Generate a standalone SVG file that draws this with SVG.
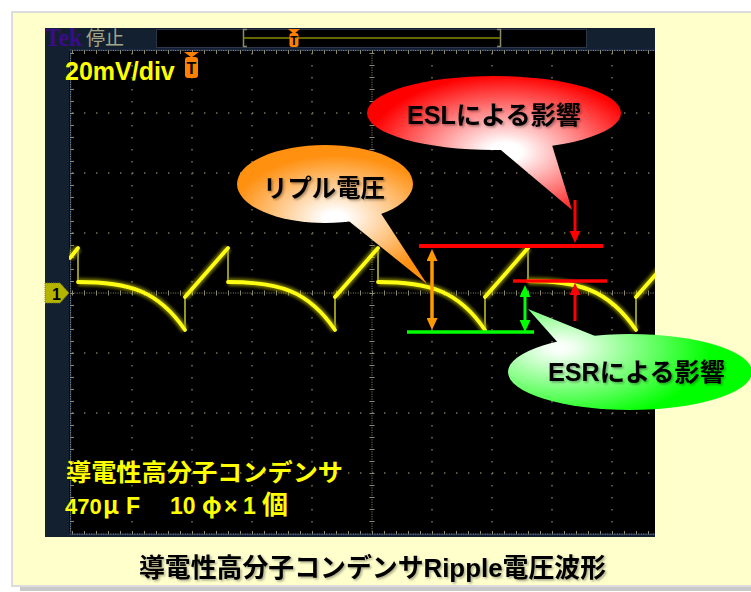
<svg xmlns="http://www.w3.org/2000/svg" width="751" height="592" viewBox="0 0 751 592">
<defs>
<style>
.jp{font-family:"Liberation Sans","Noto Sans CJK JP",sans-serif;font-weight:bold}
.g{fill:none;stroke:#7a7a5e;stroke-width:1.4;stroke-dasharray:1.4 10.6}
.cl{fill:none;stroke:#8c8c72;stroke-width:1;stroke-dasharray:1 1.4}
.tk{fill:none;stroke:#8c8c72;stroke-width:5;stroke-dasharray:1 11}
.bd{fill:none;stroke:#26335c;stroke-width:1.5}
.wv{fill:none;stroke:#ffff14;stroke-width:3.8;stroke-linejoin:round;stroke-linecap:round}
.wg{fill:none;stroke:#d8d800;stroke-width:8;opacity:.5;filter:url(#blur)}
.ed{fill:none;stroke:#96961a;stroke-width:2}
.cap{font-size:25px;fill:#000;filter:url(#sh)}
</style>
<filter id="blur" x="-10%" y="-30%" width="120%" height="160%"><feGaussianBlur stdDeviation="1.6"/></filter>
<filter id="sh" x="-5%" y="-20%" width="110%" height="150%"><feDropShadow dx="1.5" dy="1.5" stdDeviation="0.8" flood-color="#000" flood-opacity="0.35"/></filter>
<clipPath id="scr"><rect x="69" y="49" width="586" height="486"/></clipPath>
<radialGradient id="gESL" gradientUnits="userSpaceOnUse" cx="0" cy="0" r="140" gradientTransform="translate(505 152) scale(1 0.55)">
<stop offset="0" stop-color="#fff"/><stop offset="0.12" stop-color="#fff"/><stop offset="1" stop-color="#ff0000"/></radialGradient>
<radialGradient id="gRip" gradientUnits="userSpaceOnUse" cx="0" cy="0" r="105" gradientTransform="translate(335 218) scale(1 0.6)">
<stop offset="0" stop-color="#fff"/><stop offset="0.1" stop-color="#fff"/><stop offset="1" stop-color="#ff9010"/></radialGradient>
<radialGradient id="gESR" gradientUnits="userSpaceOnUse" cx="0" cy="0" r="150" gradientTransform="translate(560 348) scale(1 0.5)">
<stop offset="0" stop-color="#fff"/><stop offset="0.08" stop-color="#f4fff4"/><stop offset="1" stop-color="#00ff00"/></radialGradient>
<marker id="aO" markerUnits="userSpaceOnUse" viewBox="0 0 12 11" refX="2" refY="5.5" markerWidth="12" markerHeight="11" orient="auto-start-reverse"><path d="M0,0L12,5.5L0,11z" fill="#ff9900"/></marker>
<marker id="aG" markerUnits="userSpaceOnUse" viewBox="0 0 12 11" refX="2" refY="5.5" markerWidth="12" markerHeight="11" orient="auto-start-reverse"><path d="M0,0L12,5.5L0,11z" fill="#00ff00"/></marker>
<marker id="aR" markerUnits="userSpaceOnUse" viewBox="0 0 12 11" refX="2" refY="5.5" markerWidth="12" markerHeight="11" orient="auto-start-reverse"><path d="M0,0L12,5.5L0,11z" fill="#ff0000"/></marker>
</defs>

<rect width="751" height="592" fill="#fff"/>
<rect x="20" y="18" width="740" height="573" fill="#c9c9c9"/>
<rect x="12" y="12" width="750" height="574" fill="#ffffcc" stroke="#dcdcdc" stroke-width="2"/>

<g id="scope">
<rect x="45" y="28" width="610" height="509" fill="#13202f"/>
<rect x="69" y="49" width="586" height="486" fill="#000"/>
<rect x="156.5" y="29.5" width="430" height="18" fill="#000" stroke="#2a3648"/>
<path d="M247,29.5H243.5V46.5H247M497,29.5H500.5V46.5H497" fill="none" stroke="#8c8c6a" stroke-width="1.5"/>
<path d="M244,38H500" stroke="#8a8a00" stroke-width="1.5"/>
<text x="45" y="46" font-family="Liberation Serif,serif" font-weight="bold" font-size="25" fill="#3a0c8c" textLength="37" lengthAdjust="spacingAndGlyphs">Tek</text>
<text x="86" y="45" font-family="Noto Sans CJK JP,sans-serif" font-size="19" fill="#a3a68a">停止</text>
</g>

<g id="grid" clip-path="url(#scr)">
<path class="g" d="M132,53V533M192,53V533M252,53V533M312,53V533M432,53V533M492,53V533M552,53V533M612,53V533"/>
<path class="g" d="M72,113H655M72,173H655M72,233H655M72,353H655M72,413H655M72,473H655"/>
<path class="cl" d="M72,293H655M372,53V533"/>
<path class="tk" d="M72,293H655M372,53V533"/>
<path class="bd" d="M69,50H655M70.5,49V535M69,534.5H655"/>
<path class="cl" d="M72,50.5H655M72,534H655M70.5,53V533"/>
<path style="fill:none;stroke:#8c8c72;stroke-width:3;stroke-dasharray:1 11" d="M72,52.5H655M72,532.5H655M72.5,53V533"/>
</g>

<g id="trigger-top">
<path d="M288,29H300L294,34Z" fill="#ff8000"/>
<rect x="289.5" y="33" width="9" height="14" rx="2.5" fill="#ff8000"/>
<text x="294" y="45" text-anchor="middle" font-family="Liberation Sans,sans-serif" font-weight="bold" font-size="12" fill="#000">T</text>
</g>

<g id="ch1-marker">
<path d="M45,283H60L69,293L60,303H45Z" fill="#b4b400" stroke="#7c7c00" stroke-width="1" stroke-dasharray="1 1"/>
<text x="52" y="299.5" font-family="Liberation Sans,sans-serif" font-weight="bold" font-size="16" fill="#000">1</text>
</g>

<g id="waveform" clip-path="url(#scr)">
<path class="wg" d="M70,258L78,248M78,282C128,282 158,290 185,330M185,297L228,248M228,282C278,282 308,290 335,330M335,297L378,248M378,282C428,282 458,290 485,330M485,297L528,248M528,281C578,281 608,289 636,330M636,297L679,248"/>
<path class="ed" d="M78,248V282M185,330V297M228,248V282M335,330V297M378,248V282M485,330V297M528,248V281M636,330V297"/>
<path class="wv" d="M70,258L78,248M78,282C128,282 158,290 185,330M185,297L228,248M228,282C278,282 308,290 335,330M335,297L378,248M378,282C428,282 458,290 485,330M485,297L528,248M528,281C578,281 608,289 636,330M636,297L679,248"/>
</g>

<g id="scale-label">
<text class="jp" x="65" y="80" font-size="25" fill="#ffff00">20mV/div</text>
<path d="M184,52H199L191.5,57.5Z" fill="#ff8000"/>
<rect x="185" y="57" width="13" height="21" rx="3" fill="#ff8000"/>
<text x="191.5" y="74" text-anchor="middle" font-family="Liberation Sans,sans-serif" font-weight="bold" font-size="16" fill="#000">T</text>
</g>

<g id="callout-ripple">
<ellipse cx="325" cy="184" rx="88" ry="39" fill="url(#gRip)"/>
<path d="M345,218L427,284L380,212Z" fill="url(#gRip)"/>
<text class="jp cap" x="263" y="197" textLength="122" lengthAdjust="spacingAndGlyphs">リプル電圧</text>
</g>

<g id="callout-esl">
<ellipse cx="494" cy="113" rx="127" ry="37" fill="url(#gESL)"/>
<path d="M495,145L572,210L552,145Z" fill="url(#gESL)"/>
<text class="jp cap" x="407" y="124" textLength="174" lengthAdjust="spacingAndGlyphs">ESLによる影響</text>
</g>

<g id="callout-esr">
<ellipse cx="630" cy="372" rx="122" ry="38" fill="url(#gESR)"/>
<path d="M528,309L560,345L605,340Z" fill="url(#gESR)"/>
<text class="jp cap" x="548" y="381" textLength="177" lengthAdjust="spacingAndGlyphs">ESRによる影響</text>
</g>

<g id="connectors">
<path d="M419,246H603" stroke="#ff0000" stroke-width="4"/>
<path d="M513,281H607" stroke="#ff0000" stroke-width="3.5"/>
<path d="M407,332H534" stroke="#00ff00" stroke-width="3.5"/>
<path d="M432,259V320" stroke="#ff9900" stroke-width="3.5" marker-start="url(#aO)" marker-end="url(#aO)"/>
<path d="M525,295V322" stroke="#00ff00" stroke-width="3" marker-start="url(#aG)" marker-end="url(#aG)"/>
<path d="M575,200V233" stroke="#ff0000" stroke-width="3" marker-end="url(#aR)"/>
<path d="M575,321V293" stroke="#ff0000" stroke-width="3" marker-end="url(#aR)"/>
</g>

<g id="capacitor-label">
<text class="jp" x="66" y="481" font-size="24" fill="#ffff00" textLength="277" lengthAdjust="spacingAndGlyphs">導電性高分子コンデンサ</text>
<text class="jp" y="514" font-size="23" fill="#ffff00" xml:space="preserve"><tspan x="65" font-size="22">470</tspan><tspan x="103" font-family="Noto Sans CJK JP,sans-serif" font-size="24">μ</tspan><tspan x="126">F  </tspan><tspan x="170">10</tspan><tspan x="202" font-family="Noto Sans CJK JP,sans-serif" font-size="24">φ</tspan><tspan x="224">×</tspan><tspan x="243">1</tspan><tspan x="262" font-size="26">個</tspan></text>
</g>

<g id="caption">
<text class="jp" x="139" y="577" font-size="26" fill="#000" filter="url(#sh)" textLength="467" lengthAdjust="spacingAndGlyphs">導電性高分子コンデンサRipple電圧波形</text>
</g>
</svg>
